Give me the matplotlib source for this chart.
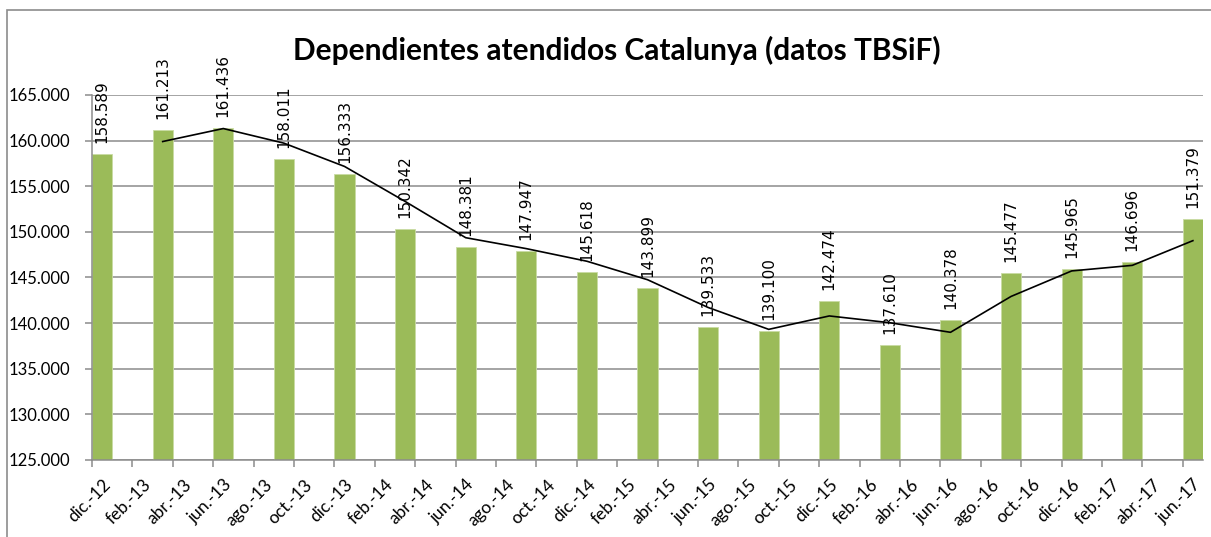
import matplotlib
matplotlib.use('Agg')
import matplotlib.pyplot as plt
import matplotlib.transforms as mtransforms
from matplotlib.patches import Rectangle
import numpy as np

# month names used by the date axis (Spanish, abbreviated)
meses = ['ene.', 'feb.', 'mar.', 'abr.', 'may.', 'jun.',
         'jul.', 'ago.', 'sep.', 'oct.', 'nov.', 'dic.']

# quarterly data, dic.-12 .. jun.-17
periodos = ['dic.-12', 'mar.-13', 'jun.-13', 'sep.-13', 'dic.-13', 'mar.-14',
            'jun.-14', 'sep.-14', 'dic.-14', 'mar.-15', 'jun.-15', 'sep.-15',
            'dic.-15', 'mar.-16', 'jun.-16', 'sep.-16', 'dic.-16', 'mar.-17',
            'jun.-17']
dependientes = [158589, 161213, 161436, 158011, 156333, 150342, 148381, 147947,
                145618, 143899, 139533, 139100, 142474, 137610, 140378, 145477,
                145965, 146696, 151379]

titulo = 'Dependientes atendidos Catalunya (datos TBSiF)'


def mes_idx(lbl):
    # months since dic.-12
    m, a = lbl.split('-')
    return (2000 + int(a)) * 12 + meses.index(m) - (2012 * 12 + 11)


x_bars = np.array([mes_idx(p) for p in periodos])
vals = np.array(dependientes, dtype=float)

# tick labels every 2 months
tick_pos = np.arange(0, x_bars.max() + 1, 2)
tick_lbl = []
for t in tick_pos:
    tot = 2012 * 12 + 11 + t
    tick_lbl.append('%s-%02d' % (meses[tot % 12], (tot // 12) % 100))

# 2-period moving average (Excel trendline)
media = (vals[1:] + vals[:-1]) / 2.0


def fmt(v):
    return '{:,.0f}'.format(v).replace(',', '.')


W, H = 1211, 537
fig = plt.figure(figsize=(W / 100, H / 100), dpi=100)
fig.patch.set_facecolor('white')

# chart border
fig.patches.append(Rectangle((7 / W, -0.1), 1.2, 1.1 - 10 / H,
                             transform=fig.transFigure, fill=False,
                             edgecolor='#8c8c8c', linewidth=1.2))

ax = fig.add_axes([92 / W, 1 - 460 / H, (1203 - 92) / W, (460 - 95) / H])

ax.bar(x_bars, vals, width=1.0, align='edge', color='#9BBB59',
       edgecolor='#c9dba3', linewidth=0.6, zorder=2)
ax.plot(x_bars[1:] + 0.5, media, color='black', linewidth=1.2, zorder=3)

for xb, v in zip(x_bars, vals):
    ax.annotate(fmt(v), (xb + 0.5, v), xytext=(0, 11), textcoords='offset pixels',
                rotation=90, ha='center', va='bottom', fontsize=11,
                family='DejaVu Sans', color='black', annotation_clip=False,
                zorder=4)

ax.set_xlim(0, x_bars.max() + 1)
ax.set_ylim(125000, 165000)
ax.set_yticks(np.arange(125000, 165001, 5000))
ax.set_yticklabels([fmt(v) for v in np.arange(125000, 165001, 5000)],
                   family='Lato', fontsize=12)
ax.set_xticks(tick_pos)
ax.set_xticklabels([])

# rotated month labels, end of text just right of and below the tick
trans = mtransforms.blended_transform_factory(ax.transData, ax.transAxes)
off = mtransforms.ScaledTranslation(16 / 100, -22 / 100, fig.dpi_scale_trans)
for tp, tl in zip(tick_pos, tick_lbl):
    ax.text(tp, 0, tl, transform=trans + off, rotation=45, ha='right',
            va='center', rotation_mode='anchor', family='Lato',
            fontsize=12.5, clip_on=False)

ax.grid(axis='y', color='#8c8c8c', linewidth=1.1, zorder=0)
ax.set_axisbelow(True)
for s in ['top', 'right']:
    ax.spines[s].set_visible(False)
for s in ['left', 'bottom']:
    ax.spines[s].set_color('#8c8c8c')
    ax.spines[s].set_linewidth(1.1)
ax.tick_params(axis='both', direction='out', length=5, width=1.1,
               color='#8c8c8c', labelcolor='black')
ax.tick_params(axis='y', pad=11)

fig.text(617 / W, 1 - 50 / H, titulo, ha='center', va='center',
         family='Lato', fontweight='bold', fontsize=21.5)

fig.savefig('out.png', dpi=100)
